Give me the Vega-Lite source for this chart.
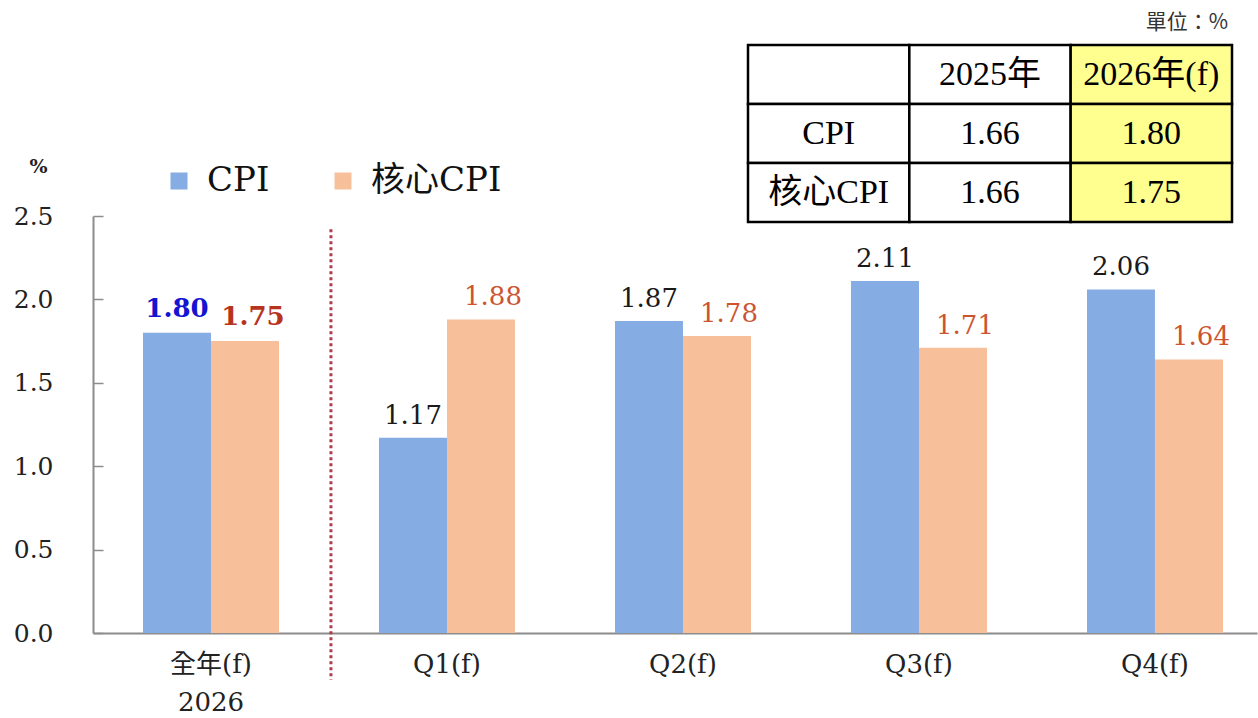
{
  "$schema": "https://vega.github.io/schema/vega-lite/v6.json",
  "width": 1164,
  "height": 417,
  "autosize": {"type": "none"},
  "padding": {"left": 93, "top": 216, "right": 1, "bottom": 85},
  "background": "white",
  "config": {"view": {"stroke": null}, "font": "DejaVu Serif"},
  "datasets": {
    "bars": [
      {"period": "全年(f)", "series": "CPI", "value": 1.80},
      {"period": "全年(f)", "series": "核心CPI", "value": 1.75},
      {"period": "Q1(f)", "series": "CPI", "value": 1.17},
      {"period": "Q1(f)", "series": "核心CPI", "value": 1.88},
      {"period": "Q2(f)", "series": "CPI", "value": 1.87},
      {"period": "Q2(f)", "series": "核心CPI", "value": 1.78},
      {"period": "Q3(f)", "series": "CPI", "value": 2.11},
      {"period": "Q3(f)", "series": "核心CPI", "value": 1.71},
      {"period": "Q4(f)", "series": "CPI", "value": 2.06},
      {"period": "Q4(f)", "series": "核心CPI", "value": 1.64}
    ],
    "table": [
      {"row": "unit", "col": "y2026", "text": "單位：%"},
      {"row": "h", "col": "label", "text": ""},
      {"row": "h", "col": "y2025", "text": "2025年"},
      {"row": "h", "col": "y2026", "text": "2026年(f)"},
      {"row": "cpi", "col": "label", "text": "CPI"},
      {"row": "cpi", "col": "y2025", "text": "1.66"},
      {"row": "cpi", "col": "y2026", "text": "1.80"},
      {"row": "core", "col": "label", "text": "核心CPI"},
      {"row": "core", "col": "y2025", "text": "1.66"},
      {"row": "core", "col": "y2026", "text": "1.75"}
    ]
  },
  "layer": [
    {
      "data": {"name": "bars"},
      "encoding": {
        "x": {
          "field": "period",
          "type": "nominal",
          "sort": ["全年(f)", "Q1(f)", "Q2(f)", "Q3(f)", "Q4(f)"],
          "scale": {"paddingInner": 0.4237, "paddingOuter": 0.178, "align": 0.595},
          "axis": {
            "title": null,
            "ticks": false,
            "labelAngle": 0,
            "domainColor": "#8c8c8c",
            "domainWidth": 2,
            "labelFont": "DejaVu Serif, Noto Sans CJK TC",
            "labelFontSize": 26,
            "labelColor": "#222222",
            "labelPadding": 18,
            "labelLineHeight": 38,
            "labelExpr": "datum.value == '全年(f)' ? ['全年(f)', '2026'] : datum.label"
          }
        }
      },
      "layer": [
        {
          "mark": {"type": "bar"},
          "encoding": {
            "xOffset": {"field": "series", "type": "nominal", "sort": ["CPI", "核心CPI"], "scale": {"paddingInner": 0, "paddingOuter": 0}},
            "y": {
              "field": "value",
              "type": "quantitative",
              "scale": {"domain": [0, 2.5], "nice": false},
              "axis": {
                "values": [0, 0.5, 1, 1.5, 2, 2.5],
                "format": ".1f",
                "grid": false,
                "domainColor": "#8c8c8c",
                "domainWidth": 2,
                "tickColor": "#8c8c8c",
                "tickWidth": 1.5,
                "tickSize": -10,
                "labelPadding": 50,
                "labelFont": "DejaVu Serif",
                "labelFontSize": 25,
                "labelColor": "#222222",
                "title": "%",
                "titleAngle": 0,
                "titleX": -55,
                "titleY": -50,
                "titleFont": "DejaVu Serif",
                "titleFontSize": 19,
                "titleFontWeight": "bold",
                "titleColor": "#222222",
                "titleAlign": "center",
                "titleBaseline": "middle"
              }
            },
            "color": {
              "field": "series",
              "type": "nominal",
              "scale": {"domain": ["CPI", "核心CPI"], "range": ["#86ade3", "#f7c09a"]},
              "legend": {
                "title": null,
                "orient": "none",
                "legendX": 69,
                "legendY": -52,
                "direction": "horizontal",
                "symbolType": "square",
                "symbolSize": 289,
                "symbolStrokeWidth": 0,
                "labelFont": "DejaVu Serif, Noto Sans CJK TC",
                "labelFontSize": 34,
                "labelColor": "#111111",
                "labelOffset": 11,
                "columnPadding": 56
              }
            }
          }
        },
        {
          "transform": [{"filter": "datum.series == 'CPI' && datum.period != '全年(f)'"}],
          "mark": {"type": "text", "baseline": "alphabetic", "dy": -14, "fontSize": 26, "color": "#1a1a1a", "font": "DejaVu Serif"},
          "encoding": {
            "xOffset": {"field": "series", "type": "nominal", "sort": ["CPI", "核心CPI"]},
            "y": {"field": "value", "type": "quantitative"},
            "text": {"field": "value", "type": "quantitative", "format": ".2f"}
          }
        },
        {
          "transform": [{"filter": "datum.series == '核心CPI' && datum.period != '全年(f)'"}],
          "mark": {"type": "text", "baseline": "alphabetic", "dy": -14, "dx": 12, "fontSize": 26, "color": "#cc5530", "font": "DejaVu Serif"},
          "encoding": {
            "xOffset": {"field": "series", "type": "nominal", "sort": ["CPI", "核心CPI"]},
            "y": {"field": "value", "type": "quantitative"},
            "text": {"field": "value", "type": "quantitative", "format": ".2f"}
          }
        },
        {
          "transform": [{"filter": "datum.series == 'CPI' && datum.period == '全年(f)'"}],
          "mark": {"type": "text", "baseline": "alphabetic", "dy": -16, "fontSize": 26, "fontWeight": "bold", "color": "#1414d2", "font": "DejaVu Serif"},
          "encoding": {
            "xOffset": {"field": "series", "type": "nominal", "sort": ["CPI", "核心CPI"]},
            "y": {"field": "value", "type": "quantitative"},
            "text": {"field": "value", "type": "quantitative", "format": ".2f"}
          }
        },
        {
          "transform": [{"filter": "datum.series == '核心CPI' && datum.period == '全年(f)'"}],
          "mark": {"type": "text", "baseline": "alphabetic", "dy": -16, "dx": 8, "fontSize": 26, "fontWeight": "bold", "color": "#b8331c", "font": "DejaVu Serif"},
          "encoding": {
            "xOffset": {"field": "series", "type": "nominal", "sort": ["CPI", "核心CPI"]},
            "y": {"field": "value", "type": "quantitative"},
            "text": {"field": "value", "type": "quantitative", "format": ".2f"}
          }
        },
        {
          "data": {"values": [{}]},
          "mark": {"type": "rule", "color": "#b03a48", "strokeWidth": 3, "strokeDash": [3, 3]},
          "encoding": {
            "x": {"datum": "全年(f)", "bandPosition": 1.382},
            "y": {"datum": 2.42},
            "y2": {"datum": -0.28}
          }
        }
      ]
    },
    {
      "data": {"name": "table"},
      "encoding": {
        "x": {
          "field": "col",
          "type": "nominal",
          "scale": {"domain": ["label", "y2025", "y2026"], "range": [655, 1139], "paddingInner": 0, "paddingOuter": 0},
          "axis": null
        },
        "y": {
          "field": "row",
          "type": "nominal",
          "scale": {"domain": ["unit", "h", "cpi", "core"], "range": [-230, 6], "paddingInner": 0, "paddingOuter": 0},
          "axis": null
        }
      },
      "layer": [
        {
          "transform": [{"filter": "datum.row != 'unit'"}],
          "mark": {"type": "rect", "stroke": "#000000", "strokeWidth": 2.5},
          "encoding": {
            "fill": {"condition": {"test": "datum.col == 'y2026'", "value": "#ffff8f"}, "value": "#ffffff"}
          }
        },
        {
          "transform": [{"filter": "datum.row != 'unit'"}],
          "mark": {"type": "text", "font": "Liberation Serif, Noto Sans CJK TC", "fontSize": 34, "color": "#000000", "baseline": "middle", "align": "center"},
          "encoding": {"text": {"field": "text", "type": "nominal"}}
        },
        {
          "transform": [{"filter": "datum.row == 'unit'"}],
          "mark": {"type": "text", "font": "Noto Sans CJK TC", "fontSize": 21, "color": "#333333", "baseline": "middle", "align": "right", "dy": 7, "dx": -4},
          "encoding": {
            "x": {"field": "col", "type": "nominal", "bandPosition": 1},
            "text": {"field": "text", "type": "nominal"}
          }
        }
      ]
    }
  ],
  "resolve": {"scale": {"x": "independent", "y": "independent"}}
}
